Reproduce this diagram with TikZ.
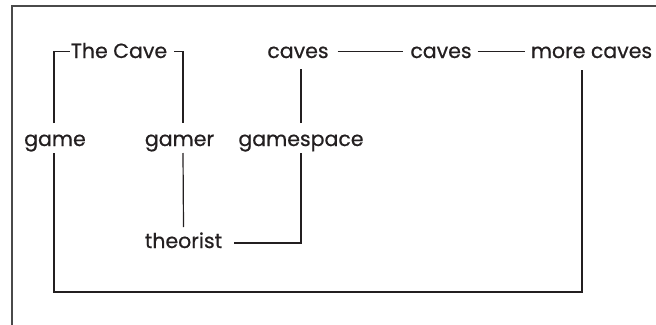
\documentclass[tikz,border=0pt]{standalone}
\usepackage{fontspec}
\setmainfont{Poppins}[FakeBold=0.6]
\definecolor{ink}{HTML}{231F20}
\definecolor{framec}{HTML}{4A4A4A}
\tikzset{
  lbl/.style={anchor=base, inner sep=0pt, outer sep=0pt, text height=17pt, text depth=4pt,
    font=\fontsize{20.5}{22}\selectfont, text=ink},
  conn/.style={draw=ink, line width=1.2pt},
}
\begin{document}
\begin{tikzpicture}[x=1pt,y=-1pt]
\useasboundingbox (0,0) rectangle (656,324);
\draw[framec, line width=1.5pt] (12,330) -- (12,6) -- (662,6);
\node[lbl] (cave) at (119,58) {The Cave};
\node[lbl] (caves1) at (298,58) {caves};
\node[lbl] (caves2) at (441,58) {caves};
\node[lbl] (more) at (591.5,58) {more caves};
\node[lbl] (game) at (55,146) {game};
\node[lbl] (gamer) at (179.5,146) {gamer};
\node[lbl] (gamespace) at (301,146) {gamespace};
\node[lbl] (theorist) at (183.5,248) {theorist};
\coordinate (loop) at (54,292);
\draw[conn] ([xshift=-1pt,yshift=6pt]game.north) |- ([xshift=-1pt]cave.west);
\draw[conn] ([xshift=7pt]cave.east) -| ([xshift=3.5pt,yshift=6pt]gamer.north);
\draw[conn] ([xshift=3.5pt,yshift=-3pt]gamer.south) -- ([yshift=4pt]theorist.north);
\draw[conn] ([xshift=12pt,yshift=-1.5pt]theorist.east) -| ([yshift=-3pt]gamespace.south);
\draw[conn] ([yshift=6pt]gamespace.north) -- ([yshift=-7pt]caves1.south -| gamespace.north);
\draw[conn] ([xshift=9pt]caves1.east) -- ([xshift=-7pt]caves2.west);
\draw[conn] ([xshift=6pt]caves2.east) -- ([xshift=-6pt]more.west);
\draw[conn] ([xshift=-9.5pt,yshift=-8pt]more.south) |- (loop) -- ([xshift=-1pt,yshift=-3pt]game.south);
\end{tikzpicture}
\end{document}
